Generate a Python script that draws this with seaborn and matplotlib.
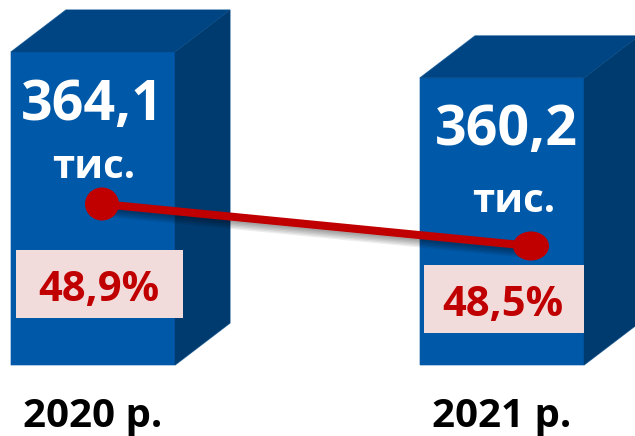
import matplotlib
matplotlib.use("Agg")
import matplotlib.pyplot as plt
import matplotlib.patheffects as pe
from matplotlib.patches import Ellipse, Polygon, Rectangle
import pandas as pd
import seaborn as sns

years = ["2020 р.", "2021 р."]
totals = [364.1, 360.2]
shares = [48.9, 48.5]
total_labels = ["364,1", "360,2"]
unit_label = "тис."
share_labels = ["48,9%", "48,5%"]

FRONT = "#0058A8"
SIDE = "#003B70"
TOP = "#004583"
EDGE = "#8DB0D2"
RED = "#C00000"
PINK = "#F2DCDB"
W, H = 635, 436

sns.set_theme(style="white")
plt.rcParams["font.family"] = ["Open Sans", "DejaVu Sans"]

fig = plt.figure(figsize=(W / 100, H / 100), dpi=100)

# bars stop at y=365px, the value axis is cut off at 317 like the original
ax = fig.add_axes([0, (H - 365) / H, 1, 365 / H])
df = pd.DataFrame({"year": years, "total": totals})
sns.barplot(data=df, x="year", y="total", color=FRONT, saturation=1, width=164 / 409,
            linewidth=0, ax=ax)
base = 317
k = 313 / (totals[0] - base)  # px per unit
ax.set_ylim(base, base + 365 / k)
ax.set_xlim(-93 / 409, (W - 93) / 409)
ax.set_xlabel("")
ax.set_ylabel("")
ax.set_yticks([])
ax.tick_params(axis="x", length=0, pad=23)
for t in ax.get_xticklabels():
    t.set_fontsize(29)
    t.set_fontweight("bold")
    t.set_color("black")
sns.despine(ax=ax, left=True, bottom=True)

# fake 3d faces
dx, dy = 55 / 409, 42 / k
for bar in list(ax.patches):
    x0 = bar.get_x()
    x1 = x0 + bar.get_width()
    y1 = bar.get_height()
    outline = [(x0, base), (x1, base), (x1 + dx, base + dy), (x1 + dx, y1 + dy), (x0 + dx, y1 + dy), (x0, y1)]
    ax.add_patch(Polygon(outline, fill=False, ec=EDGE, lw=1.0, zorder=1.5, clip_on=False))
    bar.set_zorder(2)
    ax.add_patch(Polygon([(x1, base), (x1 + dx, base + dy), (x1 + dx, y1 + dy), (x1, y1)],
                         fc=SIDE, ec=SIDE, lw=0.3, zorder=2))
    ax.add_patch(Polygon([(x0, y1), (x0 + dx, y1 + dy), (x1 + dx, y1 + dy), (x1, y1)],
                         fc=TOP, ec=TOP, lw=0.3, zorder=2))

# share line sits on its own axes, shifted from the bars
ax2 = fig.add_axes([0, 0, 1, 1])
ax2.patch.set_alpha(0)
shadow = [pe.SimpleLineShadow(offset=(0, -i), shadow_color="black", alpha=0.07) for i in (1, 2, 3, 4, 5, 6)]
sns.lineplot(x=[0, 1], y=shares, color=RED, lw=5.8, ax=ax2, legend=False,
             path_effects=shadow + [pe.Normal()])
ax2.set_xlim(-102 / 429, (W - 102) / 429)
m = 42 / (shares[0] - shares[1])  # px per unit
ax2.set_ylim(shares[0] - (H - 204) / m, shares[0] + 204 / m)
ax2.axis("off")
ax2.add_patch(Ellipse((0, shares[0]), 34 / 429, 33 / m, color=RED, lw=0, zorder=5))
ax2.add_patch(Ellipse((1, shares[1]), 36 / 429, 29 / m, color=RED, lw=0, zorder=5))

# labels in pixel space
ax3 = fig.add_axes([0, 0, 1, 1])
ax3.patch.set_alpha(0)
ax3.set_xlim(0, W)
ax3.set_ylim(H, 0)
ax3.axis("off")
ax3.add_patch(Rectangle((16, 250), 167, 68, color=PINK, lw=0))
ax3.add_patch(Rectangle((424, 265), 160, 68, color=PINK, lw=0))
opts = dict(ha="center", va="center", fontweight="bold")
ax3.text(92, 105, total_labels[0], color="white", fontsize=40, **opts)
ax3.text(506, 130, total_labels[1], color="white", fontsize=40, **opts)
ax3.text(94, 167, unit_label, color="white", fontsize=29, **opts)
ax3.text(514, 201, unit_label, color="white", fontsize=29, **opts)
ax3.text(99, 290, share_labels[0], color=RED, fontsize=30, **opts)
ax3.text(503, 305, share_labels[1], color=RED, fontsize=30, **opts)

fig.savefig("out.png", dpi=100)
